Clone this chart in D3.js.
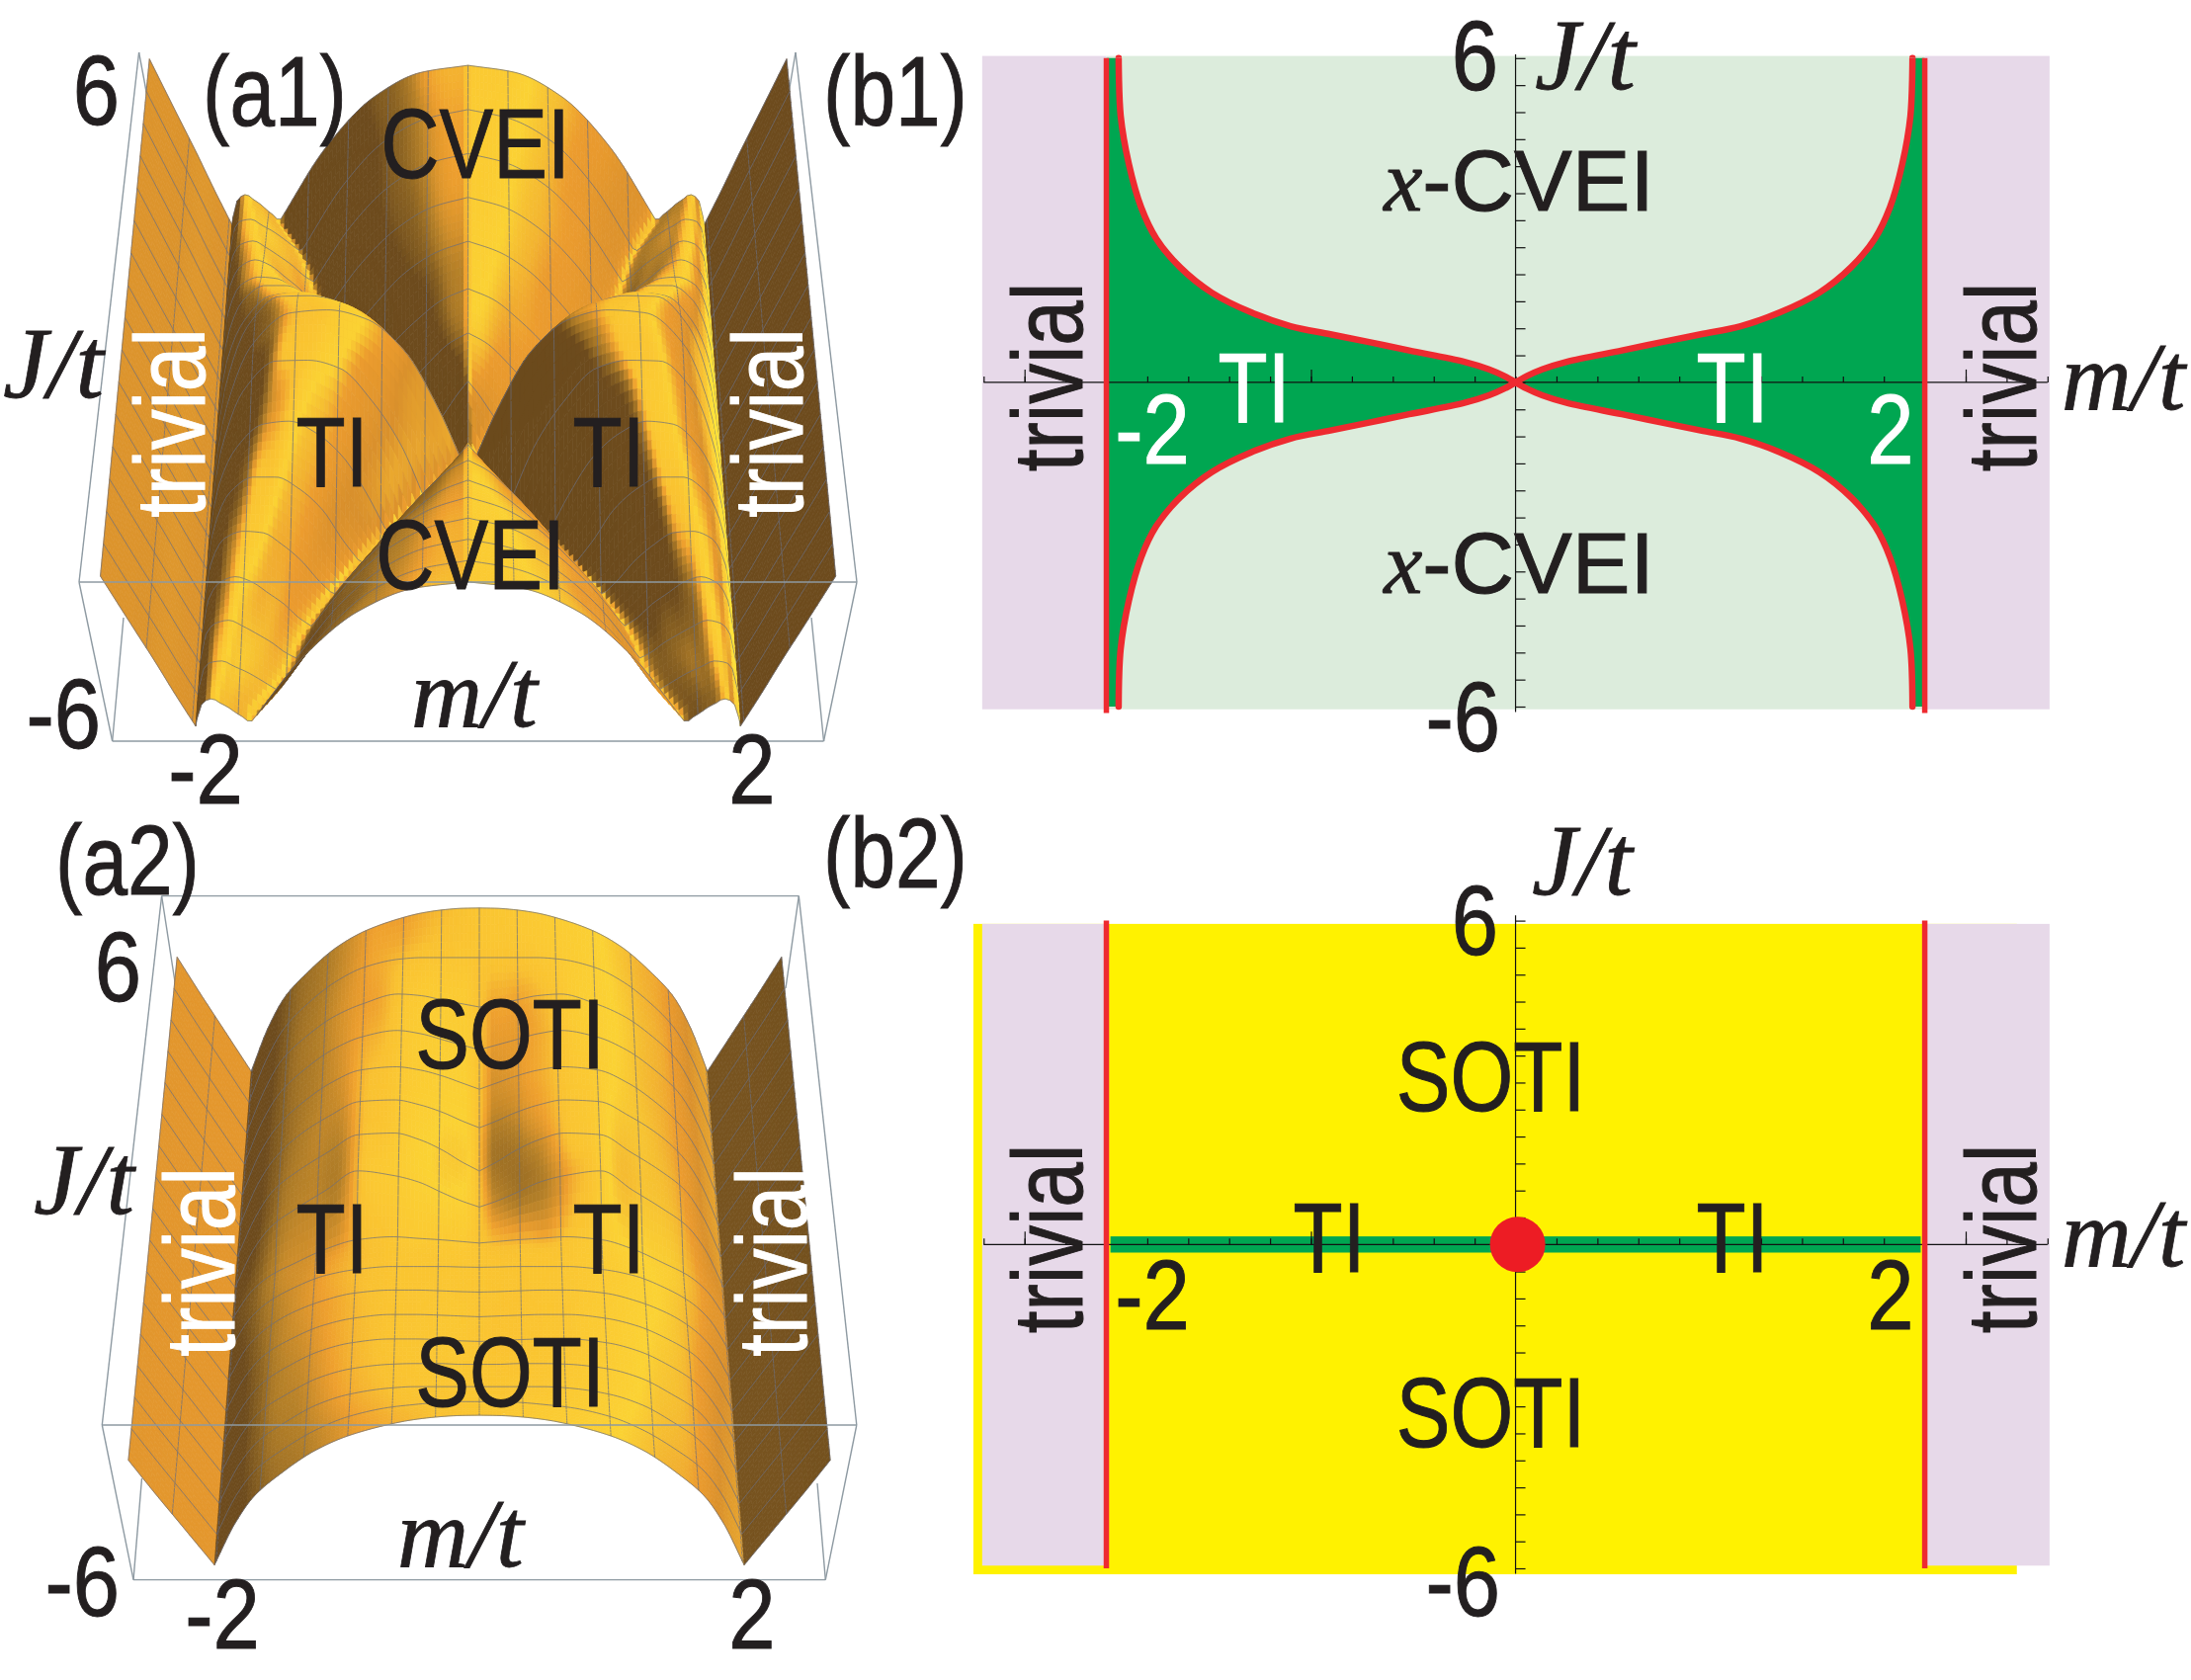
<!DOCTYPE html>
<html><head><meta charset="utf-8">
<script src="https://d3js.org/d3.v7.min.js"></script>
<style>html,body{margin:0;padding:0;background:#fff}svg{display:block}</style>
</head><body><svg id="c" width="2217" height="1700" xmlns="http://www.w3.org/2000/svg"></svg>
<script>
// ---------- data ----------
// surface (a1), one quadrant of (m,J), mirrored. Each row has a crease at |m| = a1Valley;
// hill heights are read at fractions of the crease position, dome heights at fractions of crease..2.
const a1J = [0,.3,.6,1,1.5,2.25,3,4,5,6];
const a1Valley = [0,.12,.25,.45,.62,.82,1.02,1.22,1.35,1.6];
const a1HillT = [0,.25,.5,.75,1];
const a1Hill = [
 [0,0,0,0,0],
 [.22,.18,.13,.08,.02],
 [.38,.3,.21,.12,.03],
 [.45,.37,.26,.15,.03],
 [.52,.45,.33,.19,.03],
 [.6,.53,.4,.24,.04],
 [.7,.63,.5,.29,.04],
 [.8,.74,.6,.37,.04],
 [.9,.84,.7,.43,.03],
 [1,.955,.8,.49,.02]
];
const a1DomeT = [0,.12,.25,.4,.55,.7,.85,.95,1];
const a1Dome = [
 [0,.45,.82,1.03,1.09,1.07,.86,.45,0],
 [.02,.42,.8,1.0,1.06,1.05,.84,.44,0],
 [.03,.42,.72,.95,1.0,1.0,.8,.42,0],
 [.03,.4,.66,.85,.92,.9,.72,.38,0],
 [.03,.3,.54,.7,.78,.76,.6,.34,0],
 [.04,.2,.4,.54,.62,.62,.52,.3,0],
 [.04,.14,.27,.38,.46,.47,.42,.26,0],
 [.04,.09,.17,.24,.31,.35,.31,.2,0],
 [.03,.07,.12,.17,.21,.25,.24,.17,0],
 [.02,.06,.09,.13,.16,.19,.17,.1,0]
];
const a1WedgeM = [2,2.15,2.3,2.45,2.7];
const a1Wedge = [0,.22,.45,.67,1.04];
// surface (a2), mirrored in m only: the dip shows behind the crest and not in front of it
const a2M = [0,.15,.3,.5,.7,1,1.25,1.5,1.7,1.85,2];
const a2J = [-6,-5.25,-4.5,-3.75,-3,-2.25,-1.5,-.75,0,.3,.75,1.5,2.25,3,3.75,4.5,5.25,6];
const a2Z = [
 [1,.998,.99,.97,.935,.86,.76,.61,.46,.27,0],
 [.88,.88,.875,.86,.84,.78,.69,.56,.43,.26,0],
 [.77,.77,.77,.77,.76,.72,.65,.53,.41,.25,0],
 [.71,.71,.715,.715,.71,.68,.62,.51,.4,.24,0],
 [.654,.658,.665,.67,.67,.645,.59,.49,.38,.23,0],
 [.61,.615,.62,.625,.625,.6,.55,.46,.36,.22,0],
 [.567,.57,.575,.58,.58,.56,.51,.43,.33,.21,0],
 [.525,.527,.53,.53,.53,.51,.47,.39,.3,.19,0],
 [.48,.49,.5,.51,.52,.5,.44,.35,.27,.17,0],
 [.49,.51,.54,.57,.6,.6,.5,.4,.31,.19,0],
 [.51,.55,.6,.67,.71,.74,.62,.5,.39,.24,0],
 [.54,.6,.67,.74,.78,.77,.66,.54,.42,.25,0],
 [.615,.66,.71,.76,.79,.78,.69,.57,.43,.26,0],
 [.66,.7,.74,.78,.8,.78,.7,.57,.43,.26,0],
 [.71,.74,.77,.81,.83,.79,.71,.58,.44,.26,0],
 [.78,.8,.82,.85,.86,.8,.72,.59,.45,.26,0],
 [.89,.89,.89,.89,.88,.83,.74,.6,.45,.26,0],
 [1,.998,.99,.97,.935,.86,.76,.61,.46,.27,0]
];
const a2WedgeM = [2,2.15,2.3,2.45,2.65];
const a2Wedge = [0,.16,.32,.48,.7];
// phase boundary of (b1), one quadrant
const boundaryM = [0,.054,.13,.25,.52,.71,.905,1.1,1.29,1.485,1.64,1.756,1.83,1.89,1.93,1.94];
const boundaryJ = [0,.115,.24,.38,.59,.74,.89,1.04,1.29,1.66,2.13,2.66,3.24,4.04,4.93,6];
const mMinorTicks = d3.range(-13,14).map(i=>i*.2);
const mMajorTicks = [-2.4,-2,-1,2,2.2];
const jTicks = d3.range(-12,13).map(i=>i*.5);
const criticalM = [-2,2];

// ---------- helpers ----------
const svg = d3.select('#c');
const INK = '#231f20';
const SANS = '"Liberation Sans",Arial,sans-serif';
const SERIF = '"Liberation Serif","Times New Roman",serif';
function T(g,str,x,y,o={}){
  const {size=100,sx=.82,anchor='middle',fill=INK,rot=false,family=SANS,style='normal',weight=1}=o;
  return g.append('text').attr('transform',`translate(${x},${y}) rotate(${rot?-90:0}) scale(${sx},1)`)
    .attr('text-anchor',anchor).attr('font-family',family).attr('font-style',style)
    .attr('font-size',size).attr('fill',fill).attr('stroke',fill).attr('stroke-width',weight).text(str);
}
const IT = (g,str,x,y,size=100)=>T(g,str,x,y,{size,sx:1,anchor:'start',family:SERIF,style:'italic',weight:.8});

function hermite(xs,ys,breaks=[]){
  const n=xs.length,sec=[];for(let i=0;i<n-1;i++)sec.push((ys[i+1]-ys[i])/(xs[i+1]-xs[i]));
  const L=new Array(n),R=new Array(n);
  for(let i=0;i<n;i++){
    if(i===0){L[i]=R[i]=sec[0];continue}
    if(i===n-1){L[i]=R[i]=sec[n-2];continue}
    if(breaks.includes(xs[i])){L[i]=sec[i-1];R[i]=sec[i];continue}
    const a=sec[i-1],b=sec[i];
    L[i]=R[i]=a*b<=0?0:2*a*b/(a+b);
  }
  return x=>{
    let i=d3.bisectRight(xs,x)-1;i=Math.max(0,Math.min(n-2,i));
    const h=xs[i+1]-xs[i],t=(x-xs[i])/h,t2=t*t,t3=t2*t;
    return (2*t3-3*t2+1)*ys[i]+(t3-2*t2+t)*h*R[i]+(-2*t3+3*t2)*ys[i+1]+(t3-t2)*h*L[i+1];
  };
}
const slopeColor = d3.scaleLinear()
  .domain([-4,-2.2,-1.4,-.8,-.35,-.08,.08,.25,.5,.8,1.2,4])
  .range(['#ffe33a','#f5b830','#d9902c','#ec9c2e','#fbd233','#fbc932','#f9c131','#ee9f2e','#b58028','#8a6222','#6d4b1d','#6b4a1c'])
  .clamp(true);

function surface(g,zFn,mEdge,view){
  const uniq=a=>Array.from(new Set(a.map(d=>+d.toFixed(5)))).sort((a,b)=>a-b);
  const meshU=d3.range(0,17).map(i=>-mEdge+i*2*mEdge/16), meshV=d3.range(0,17).map(i=>-6+i*.75);
  const us=uniq([...d3.range(0,161).map(i=>-mEdge+i*2*mEdge/160),-2,2]);
  const vs=uniq([...d3.range(0,97).map(i=>-6+i*.125),0]);
  const isMU=new Set(meshU.map(d=>+d.toFixed(5))), isMV=new Set(meshV.map(d=>+d.toFixed(5)));
  const yG=d3.scaleLinear([-6,6],view.ground), kZ=d3.scaleLinear([-6,6],view.rise), wM=d3.scaleLinear([-6,6],view.width);
  const Z=vs.map(v=>us.map(u=>zFn(u,v)));
  const nu=us.length-1,nv=vs.length-1;
  // slope in m per cell; surfaces that also rise away from the viewer read darker on their left-facing flanks
  const S=d3.range(nv).map(j=>d3.range(nu).map(i=>{
    const sm=((Z[j][i+1]+Z[j+1][i+1])-(Z[j][i]+Z[j+1][i]))/2/(us[i+1]-us[i]);
    const sj=((Z[j+1][i]+Z[j+1][i+1])-(Z[j][i]+Z[j][i+1]))/2/(vs[j+1]-vs[j]);
    const inner=Math.abs(us[i])<view.boostM;
    return sm>0&&inner?sm*Math.min(3.2,1+view.boost*Math.max(0,sj)):sm;
  }));
  const side=u=>u<-2?0:u<2?1:2;
  const C=d3.range(nv).map(j=>d3.range(nu).map(i=>{
    const sd=side((us[i]+us[i+1])/2);let sum=0,cnt=0;
    for(let jj=Math.max(0,j-view.smoothJ);jj<=Math.min(nv-1,j+view.smoothJ);jj++)
      for(let ii=Math.max(0,i-view.smoothM);ii<=Math.min(nu-1,i+view.smoothM);ii++){
        if(side((us[ii]+us[ii+1])/2)!==sd)continue;
        sum+=S[jj][ii];cnt++;
      }
    return slopeColor(sum/cnt);
  }));
  const P=(i,j)=>[view.cx+us[i]*wM(vs[j]),yG(vs[j])-Z[j][i]*kZ(vs[j])];
  const fmt=p=>p[0].toFixed(1)+','+p[1].toFixed(1);
  const line=d3.line();
  for(let j=nv;j>0;j--){
    const cells=[];
    for(let i=0;i<nu;i++)
      cells.push({pts:[P(i,j),P(i+1,j),P(i+1,j-1),P(i,j-1)].map(fmt).join(' '),c:C[j-1][i]});
    const row=g.append('g');
    row.selectAll('polygon').data(cells).join('polygon')
      .attr('points',d=>d.pts).attr('fill',d=>d.c).attr('stroke',d=>d.c).attr('stroke-width',.7);
    let seg='';
    us.forEach((u,i)=>{ if(isMU.has(u)) seg+=line([P(i,j),P(i,j-1)]); });
    if(isMV.has(+vs[j].toFixed(5))) seg+=line(us.map((u,i)=>P(i,j)));
    if(j===1) seg+=line(us.map((u,i)=>P(i,0)));
    row.append('path').attr('d',seg).attr('fill','none').attr('stroke','#6a6c7c').attr('stroke-opacity',.7).attr('stroke-width',1);
  }
}
function frame(g,segs){
  g.selectAll(null).data(segs).join('line')
   .attr('x1',d=>d[0]).attr('y1',d=>d[1]).attr('x2',d=>d[2]).attr('y2',d=>d[3])
   .attr('stroke','#8e9aa2').attr('stroke-width',1.4);
}

// height function of (a1) built from its tables
const a1ValleyFn=hermite(a1J,a1Valley);
const a1WedgeFn=hermite(a1WedgeM,a1Wedge);
const columns=(tab,k)=>tab.map(r=>r[k]);
const a1HillFn=a1HillT.map((_,k)=>hermite(a1J,columns(a1Hill,k)));
const a1DomeFn=a1DomeT.map((_,k)=>hermite(a1J,columns(a1Dome,k)));
function a1Height(u,v){
  const m=Math.abs(u),J=Math.abs(v);
  if(m>=2) return a1WedgeFn(m);
  const w=Math.max(0,a1ValleyFn(J));
  if(m<w) return hermite(a1HillT,a1HillFn.map(f=>f(J)))(m/w);
  return hermite(a1DomeT,a1DomeFn.map(f=>f(J)))((m-w)/(2-w));
}
// height function of (a2)
const a2WedgeFn=hermite(a2WedgeM,a2Wedge);
const a2ColFn=a2M.map((_,k)=>hermite(a2J,columns(a2Z,k)));
function a2Height(u,v){
  const m=Math.abs(u);
  if(m>=2) return a2WedgeFn(m);
  return hermite(a2M,a2ColFn.map(f=>f(v)))(m);
}

// ---------- (a1) ----------
const a1=svg.append('g');
frame(a1,[[140.6,53,80,589],[805,53,867,589],[125,625,113.7,750],[821,625,833.5,750],[140.6,53,155,130],[805,53,792,130]]);
surface(a1.append('g'),a1Height,2.7,{cx:473.6,ground:[734.8,227.6],rise:[146,161.5],width:[137.8,119.4],smoothM:1,smoothJ:1,boost:5,boostM:3});
frame(a1,[[80,589,867,589],[80,589,113.7,750],[867,589,833.5,750],[113.7,750,833.5,750]]);
T(a1,'6',121,126,{anchor:'end',sx:.85});
T(a1,'(a1)',278,127);
T(a1,'CVEI',481,180);
T(a1,'CVEI',476,596);
T(a1,'TI',336,492);T(a1,'TI',616,492);
T(a1,'trivial',207,428,{rot:true,fill:'#fff'});
T(a1,'trivial',812,428,{rot:true,fill:'#fff'});
IT(a1,'J/t',3,402,102);
IT(a1,'m/t',416,735,100);
T(a1,'-6',102,757,{anchor:'end',sx:.85});
T(a1,'-2',208,813,{sx:.85});
T(a1,'2',761,813,{sx:.85});

// ---------- (a2) ----------
const a2=svg.append('g');
frame(a2,[[163.6,906.6,103.3,1442],[808.3,906.6,866.8,1442],[143.5,1496,135,1598.6],[827,1501,835.3,1598.6],[163.6,906.6,178,1000],[808.3,906.6,795,1000],[163.6,906.6,808.3,906.6]]);
surface(a2.append('g'),a2Height,2.65,{cx:485,ground:[1583.6,1084.2],rise:[151.5,165.4],width:[134,115.4],smoothM:3,smoothJ:3,boost:7,boostM:.8});
frame(a2,[[103.3,1442,866.8,1442],[103.3,1442,135,1598.6],[866.8,1442,835.3,1598.6],[135,1598.6,835.3,1598.6]]);
T(a2,'(a2)',129,905);
T(a2,'6',143,1013,{anchor:'end',sx:.85});
T(a2,'SOTI',516,1081);T(a2,'SOTI',516,1423);
T(a2,'TI',336,1288);T(a2,'TI',616,1288);
T(a2,'trivial',236.5,1277,{rot:true,fill:'#fff'});
T(a2,'trivial',816,1277,{rot:true,fill:'#fff'});
IT(a2,'J/t',34,1228,102);
IT(a2,'m/t',402,1585,100);
T(a2,'-6',121,1635,{anchor:'end',sx:.85});
T(a2,'-2',225,1668,{sx:.85});
T(a2,'2',761,1668,{sx:.85});

// ---------- shared axes for the flat panels ----------
const x=d3.scaleLinear([-2,2],[1119.5,1947.6]);
const LAV='#e7d9e9',LGREEN='#dcecdc',GREEN='#00a651',RED='#ee2a30',YEL='#fff200';
function axes(g,y,yTop,yBottom){
  const ax=g.append('g').attr('transform',`translate(0,${y(0)})`)
    .call(d3.axisTop(x).tickValues(mMinorTicks).tickSize(6).tickFormat('').tickSizeOuter(0));
  ax.append('g').call(d3.axisTop(x).tickValues(mMajorTicks).tickSize(13).tickFormat('').tickSizeOuter(0));
  ax.selectAll('.domain').remove();
  ax.append('line').attr('x1',x(-2.6)).attr('x2',x(2.6)).attr('stroke','#111').attr('stroke-width',1.2);
  const ay=g.append('g').attr('transform',`translate(${x(0)},0)`)
    .call(d3.axisRight(y).tickValues(jTicks).tickSize(10).tickFormat('').tickSizeOuter(0));
  ay.select('.domain').remove();
  ay.append('line').attr('y1',y(yTop)).attr('y2',y(yBottom)).attr('stroke','#111').attr('stroke-width',1.2);
  g.selectAll('.tick line').attr('stroke','#111').attr('stroke-width',1.2);
}

// ---------- (b1) ----------
const b1=svg.append('g');
const y1=d3.scaleLinear([-6,6],[715,58.8]);
const rect=(g,m0,m1,j0,j1,y,c)=>g.append('rect').attr('x',x(m0)).attr('width',x(m1)-x(m0)).attr('y',y(j1)).attr('height',y(j0)-y(j1)).attr('fill',c);
rect(b1,-2,2,-6.05,6.04,y1,LGREEN);
rect(b1,-2.607,-2,-6.05,6.04,y1,LAV);
rect(b1,2,2.61,-6.05,6.04,y1,LAV);
const boundary=[...boundaryM.map((m,i)=>({m,J:boundaryJ[i]})).slice(1).reverse().map(d=>({m:d.m,J:-d.J})),...boundaryM.map((m,i)=>({m,J:boundaryJ[i]}))];
[-1,1].forEach(s=>{
  b1.append('path').datum(boundary)
    .attr('d',d3.area().curve(d3.curveCatmullRom).y(d=>y1(d.J)).x0(d=>x(s*d.m)).x1(x(s*2)))
    .attr('fill',GREEN);
});
axes(b1,y1,6.07,-6.1);
[[1,1],[1,-1],[-1,1],[-1,-1]].forEach(([sm,sj])=>{
  const q=boundaryM.map((m,i)=>[x(sm*m),y1(sj*boundaryJ[i])]);
  b1.append('path').attr('d',d3.line().curve(d3.curveCatmullRom)(q)).attr('fill','none').attr('stroke',RED).attr('stroke-width',6.5).attr('stroke-linecap','round');
});
b1.selectAll(null).data(criticalM).join('line').attr('x1',d=>x(d)).attr('x2',d=>x(d)).attr('y1',y1(6)).attr('y2',y1(-6.12)).attr('stroke',RED).attr('stroke-width',5.5);
function xcvei(g,base){
  const t=T(g,'',1537,base,{size:88,sx:1}).text(null);
  t.append('tspan').attr('font-family',SERIF).attr('font-style','italic').text('x');
  t.append('tspan').text('-CVEI');
}
xcvei(b1,213);xcvei(b1,600);
T(b1,'(b1)',906,127);
T(b1,'6',1516,91,{anchor:'end',sx:.85});
T(b1,'-6',1518,760,{anchor:'end',sx:.85});
IT(b1,'J/t',1553,90,102);
IT(b1,'m/t',2086,414,98);
T(b1,'TI',1269,427,{fill:'#fff'});T(b1,'TI',1753,427,{fill:'#fff'});
T(b1,'-2',1166,469,{fill:'#fff',sx:.85});T(b1,'2',1913,469,{fill:'#fff',sx:.85});
T(b1,'trivial',1095,381.5,{rot:true});T(b1,'trivial',2060,381.5,{rot:true});

// ---------- (b2) ----------
const b2=svg.append('g');
const y2=d3.scaleLinear([-6,6],[1587,931.6]);
rect(b2,-2.65,2.45,-6.11,5.94,y2,YEL);
rect(b2,-2.607,-2,-5.95,5.94,y2,LAV);
rect(b2,2,2.61,-5.95,5.94,y2,LAV);
rect(b2,-1.98,1.98,-.15,.15,y2,GREEN);
axes(b2,y2,6.1,-6.1);
b2.selectAll(null).data(criticalM).join('line').attr('x1',d=>x(d)).attr('x2',d=>x(d)).attr('y1',y2(6)).attr('y2',y2(-6)).attr('stroke',RED).attr('stroke-width',5.5);
b2.append('circle').attr('cx',x(.01)).attr('cy',y2(0)).attr('r',28).attr('fill','#ed1c24');
T(b2,'(b2)',906,898);
T(b2,'6',1516,966,{anchor:'end',sx:.85});
T(b2,'-6',1518,1635,{anchor:'end',sx:.85});
IT(b2,'J/t',1550,905,102);
IT(b2,'m/t',2086,1281,98);
T(b2,'SOTI',1508.5,1123.5);T(b2,'SOTI',1508.5,1464);
T(b2,'TI',1345,1287);T(b2,'TI',1753,1287);
T(b2,'-2',1166,1345,{sx:.85});T(b2,'2',1913,1345,{sx:.85});
T(b2,'trivial',1095,1253.5,{rot:true});T(b2,'trivial',2060,1253.5,{rot:true});
</script></body></html>
